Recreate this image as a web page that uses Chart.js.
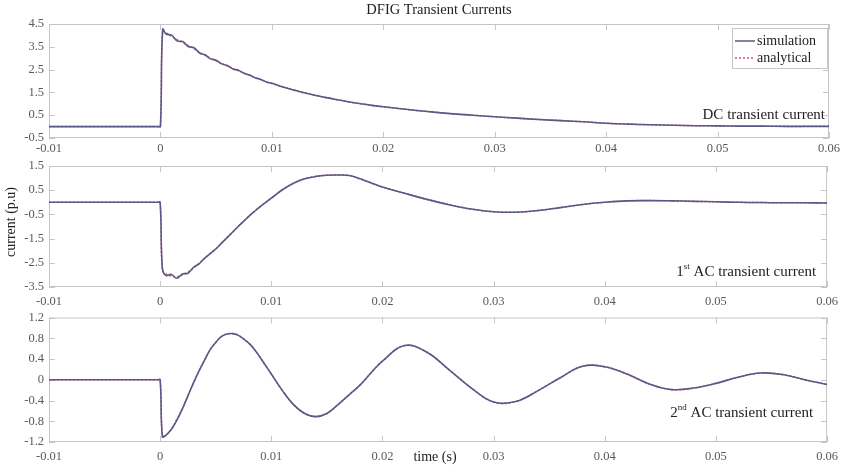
<!DOCTYPE html>
<html>
<head>
<meta charset="utf-8">
<title>DFIG Transient Currents</title>
<script src="https://cdn.jsdelivr.net/npm/chart.js@4"></script>
<style>
  body { margin: 0; background: #fff; }
  canvas { position: absolute; left: 0; }
</style>
</head>
<body>
<canvas id="dc" width="845" height="160" style="top:0px"></canvas>
<canvas id="ac1" width="845" height="160" style="top:150px"></canvas>
<canvas id="ac2" width="845" height="162" style="top:305px"></canvas>
<script>
// time base (s)
const time = [-0.01, -0.0002, 0, 0.0002, 0.0005, 0.001, 0.0015, 0.002, 0.0025, 0.003, 0.0035, 0.004, 0.0045,
  0.005, 0.0055, 0.006, 0.0065, 0.007, 0.0075, 0.008, 0.0085, 0.009, 0.0095, 0.01,
  0.011, 0.012, 0.013, 0.014, 0.015, 0.016, 0.017, 0.018, 0.019, 0.02,
  0.022, 0.024, 0.026, 0.028, 0.03, 0.032, 0.034, 0.036, 0.038, 0.04,
  0.042, 0.044, 0.046, 0.048, 0.05, 0.052, 0.054, 0.056, 0.058, 0.06];

// DC transient current (p.u)
const dcSimulation = [0, 0, 0, 4.27, 4.06, 4.01, 3.76, 3.73, 3.51, 3.46, 3.23, 3.15, 2.97,
  2.91, 2.75, 2.68, 2.53, 2.47, 2.34, 2.26, 2.14, 2.07, 1.96, 1.9,
  1.74, 1.6, 1.47, 1.36, 1.26, 1.17, 1.08, 1.0, 0.93, 0.87,
  0.76, 0.66, 0.57, 0.5, 0.43, 0.37, 0.31, 0.26, 0.21, 0.15,
  0.11, 0.08, 0.06, 0.04, 0.03, 0.02, 0.02, 0.01, 0.01, 0.01];
const dcAnalytical = [0, 0, 0, 4.2, 4.12, 3.95, 3.81, 3.68, 3.55, 3.42, 3.27, 3.12, 3.0,
  2.88, 2.77, 2.66, 2.55, 2.45, 2.35, 2.25, 2.15, 2.06, 1.97, 1.89,
  1.74, 1.6, 1.47, 1.36, 1.26, 1.17, 1.08, 1.0, 0.93, 0.87,
  0.76, 0.66, 0.57, 0.5, 0.43, 0.37, 0.31, 0.26, 0.21, 0.15,
  0.11, 0.08, 0.06, 0.04, 0.03, 0.02, 0.02, 0.01, 0.01, 0.01];

// 1st AC transient current (p.u)
const ac1Simulation = [0, 0, 0, -2.72, -3.02, -2.98, -3.14, -2.96, -2.93, -2.69, -2.54, -2.31, -2.12,
  -1.93, -1.7, -1.47, -1.24, -1.01, -0.79, -0.57, -0.37, -0.18, 0.0, 0.17,
  0.52, 0.79, 0.97, 1.07, 1.12, 1.13, 1.11, 0.97, 0.8, 0.63,
  0.37, 0.12, -0.1, -0.28, -0.39, -0.41, -0.34, -0.22, -0.09, 0.0,
  0.06, 0.07, 0.06, 0.04, 0.02, 0.0, -0.01, -0.02, -0.02, -0.03];
const ac1Analytical = [0, 0, 0, -2.8, -2.95, -3.05, -3.07, -3.0, -2.88, -2.72, -2.52, -2.32, -2.12,
  -1.93, -1.7, -1.47, -1.24, -1.01, -0.79, -0.57, -0.37, -0.18, 0.0, 0.17,
  0.52, 0.79, 0.97, 1.07, 1.12, 1.13, 1.11, 0.97, 0.8, 0.63,
  0.37, 0.12, -0.1, -0.28, -0.39, -0.41, -0.34, -0.22, -0.09, 0.0,
  0.06, 0.07, 0.06, 0.04, 0.02, 0.0, -0.01, -0.02, -0.02, -0.03];

// 2nd AC transient current (p.u)
const ac2Simulation = [0, 0, 0, -1.1, -1.07, -0.96, -0.78, -0.56, -0.31, -0.06, 0.17, 0.38, 0.58,
  0.72, 0.83, 0.88, 0.89, 0.86, 0.79, 0.7, 0.58, 0.43, 0.27, 0.11,
  -0.21, -0.48, -0.65, -0.71, -0.65, -0.48, -0.29, -0.1, 0.14, 0.36,
  0.66, 0.53, 0.19, -0.16, -0.43, -0.42, -0.21, 0.04, 0.26, 0.25,
  0.11, -0.08, -0.19, -0.16, -0.07, 0.05, 0.13, 0.1, 0.0, -0.09];
const ac2Analytical = [0, 0, 0, -1.06, -1.08, -0.95, -0.77, -0.56, -0.31, -0.06, 0.17, 0.38, 0.58,
  0.72, 0.83, 0.88, 0.89, 0.86, 0.79, 0.7, 0.58, 0.43, 0.27, 0.11,
  -0.21, -0.48, -0.65, -0.71, -0.65, -0.48, -0.29, -0.1, 0.14, 0.36,
  0.66, 0.53, 0.19, -0.16, -0.43, -0.42, -0.21, 0.04, 0.26, 0.25,
  0.11, -0.08, -0.19, -0.16, -0.07, 0.05, 0.13, 0.1, 0.0, -0.09];

const xTicks = [-0.01, 0, 0.01, 0.02, 0.03, 0.04, 0.05, 0.06];
const xTickLabels = ['-0.01', '0', '0.01', '0.02', '0.03', '0.04', '0.05', '0.06'];
const dcTicks = [-0.5, 0.5, 1.5, 2.5, 3.5, 4.5];
const ac1Ticks = [-3.5, -2.5, -1.5, -0.5, 0.5, 1.5];
const ac2Ticks = [-1.2, -0.8, -0.4, 0, 0.4, 0.8, 1.2];

const simColor = '#565a88';
const anaColor = 'rgba(232, 64, 86, 0.9)';
const serif = "'Liberation Serif', 'DejaVu Serif', serif";
const tickFont = { family: serif, size: 12.5 };

function pts(ys) {
  return time.map((t, i) => ({ x: t, y: ys[i] }));
}

// axes box with inward tick marks
const frame = {
  id: 'frame',
  beforeDatasetsDraw(chart) {
    const { ctx, chartArea: a, scales: { x, y } } = chart;
    ctx.save();
    ctx.strokeStyle = '#c6c6c6';
    ctx.lineWidth = 1;
    ctx.strokeRect(a.left + 0.5, a.top + 0.5, a.width - 1, a.height - 1);
    ctx.beginPath();
    x.ticks.forEach(t => {
      const px = Math.round(x.getPixelForValue(t.value)) + 0.5;
      ctx.moveTo(px, a.top); ctx.lineTo(px, a.top + 6);
      ctx.moveTo(px, a.bottom); ctx.lineTo(px, a.bottom - 6);
    });
    y.ticks.forEach(t => {
      const py = Math.round(y.getPixelForValue(t.value)) + 0.5;
      ctx.moveTo(a.left, py); ctx.lineTo(a.left + 6, py);
      ctx.moveTo(a.right, py); ctx.lineTo(a.right - 6, py);
    });
    ctx.stroke();
    ctx.restore();
  }
};

// text with optional superscript, right aligned
function drawNote(ctx, parts, right, y) {
  ctx.save();
  ctx.fillStyle = '#222';
  ctx.textBaseline = 'middle';
  ctx.textAlign = 'left';
  let total = 0;
  parts.forEach(p => { ctx.font = p.size + 'px ' + serif; total += ctx.measureText(p.text).width; });
  let x = right - total;
  parts.forEach(p => {
    ctx.font = p.size + 'px ' + serif;
    ctx.fillText(p.text, x, y - (p.raise || 0));
    x += ctx.measureText(p.text).width;
  });
  ctx.restore();
}

function panel(id, simY, anaY, yTicks, box, extra) {
  return new Chart(document.getElementById(id), {
    type: 'line',
    data: {
      datasets: [
        { label: 'simulation', data: pts(simY), borderColor: simColor, borderWidth: 1.6,
          pointRadius: 0, tension: 0.4 },
        { label: 'analytical', data: pts(anaY), borderColor: anaColor, borderWidth: 1.5,
          borderDash: [2, 2], pointRadius: 0, tension: 0.4 }
      ]
    },
    options: {
      responsive: false,
      animation: false,
      devicePixelRatio: 1,
      layout: { padding: { top: box.top, right: 16, left: 0, bottom: 0 } },
      plugins: { legend: { display: false }, tooltip: { enabled: false } },
      scales: {
        x: {
          type: 'linear', min: -0.01, max: 0.06,
          grid: { display: false, drawTicks: false },
          border: { display: false },
          afterBuildTicks: s => { s.ticks = xTicks.map(v => ({ value: v })); },
          afterFit: s => { s.height = box.xh; },
          ticks: { autoSkip: false, maxRotation: 0, padding: box.pad, color: '#5a5a5a', font: tickFont,
            callback: (v, i) => xTickLabels[i] }
        },
        y: {
          min: yTicks[0], max: yTicks[yTicks.length - 1],
          grid: { display: false, drawTicks: false },
          border: { display: false },
          afterBuildTicks: s => { s.ticks = yTicks.map(v => ({ value: v })); },
          afterFit: s => { s.width = 49; },
          ticks: { autoSkip: false, padding: 5, color: '#5a5a5a', font: tickFont,
            callback: v => String(v) }
        }
      }
    },
    plugins: [frame].concat(extra)
  });
}

panel('dc', dcSimulation, dcAnalytical, dcTicks, { top: 24, xh: 22, pad: 3 }, [{
  id: 'dcText',
  afterDraw(chart) {
    const ctx = chart.ctx, a = chart.chartArea;
    ctx.save();
    ctx.fillStyle = '#222';
    ctx.font = '14.5px ' + serif;
    ctx.textAlign = 'center';
    ctx.textBaseline = 'middle';
    ctx.fillText('DFIG Transient Currents', (a.left + a.right) / 2, 10);
    // legend
    const lx = a.right - 97, ly = a.top + 4;
    ctx.fillStyle = '#fff';
    ctx.fillRect(lx, ly, 95, 40);
    ctx.strokeStyle = '#c6c6c6';
    ctx.lineWidth = 1;
    ctx.strokeRect(lx + 0.5, ly + 0.5, 95, 40);
    ctx.lineWidth = 1.5;
    ctx.strokeStyle = simColor;
    ctx.beginPath(); ctx.moveTo(lx + 3, ly + 13); ctx.lineTo(lx + 23, ly + 13); ctx.stroke();
    ctx.strokeStyle = anaColor;
    ctx.setLineDash([2, 2]);
    ctx.beginPath(); ctx.moveTo(lx + 3, ly + 30); ctx.lineTo(lx + 23, ly + 30); ctx.stroke();
    ctx.setLineDash([]);
    ctx.fillStyle = '#222';
    ctx.font = '14px ' + serif;
    ctx.textAlign = 'left';
    ctx.fillText('simulation', lx + 25, ly + 13);
    ctx.fillText('analytical', lx + 25, ly + 30);
    ctx.restore();
    drawNote(ctx, [{ text: 'DC transient current', size: 15 }], a.right - 4, a.bottom - 23);
  }
}]);

panel('ac1', ac1Simulation, ac1Analytical, ac1Ticks, { top: 16, xh: 23, pad: 7 }, [{
  id: 'ac1Text',
  afterDraw(chart) {
    const ctx = chart.ctx, a = chart.chartArea;
    drawNote(ctx, [{ text: '1', size: 15 }, { text: 'st', size: 9, raise: 5 },
      { text: ' AC transient current', size: 15 }], a.right - 11, a.bottom - 15);
    ctx.save();
    ctx.fillStyle = '#222';
    ctx.font = '14px ' + serif;
    ctx.textAlign = 'center';
    ctx.textBaseline = 'middle';
    ctx.translate(11, 72);
    ctx.rotate(-Math.PI / 2);
    ctx.fillText('current (p.u)', 0, 0);
    ctx.restore();
  }
}]);

panel('ac2', ac2Simulation, ac2Analytical, ac2Ticks, { top: 12, xh: 25, pad: 7 }, [{
  id: 'ac2Text',
  afterDraw(chart) {
    const ctx = chart.ctx, a = chart.chartArea;
    drawNote(ctx, [{ text: '2', size: 15 }, { text: 'nd', size: 9, raise: 5 },
      { text: ' AC transient current', size: 15 }], a.right - 14, a.bottom - 29);
    ctx.save();
    ctx.fillStyle = '#222';
    ctx.font = '14px ' + serif;
    ctx.textAlign = 'center';
    ctx.textBaseline = 'middle';
    ctx.fillText('time (s)', 435, 152);
    ctx.restore();
  }
}]);
</script>
</body>
</html>
